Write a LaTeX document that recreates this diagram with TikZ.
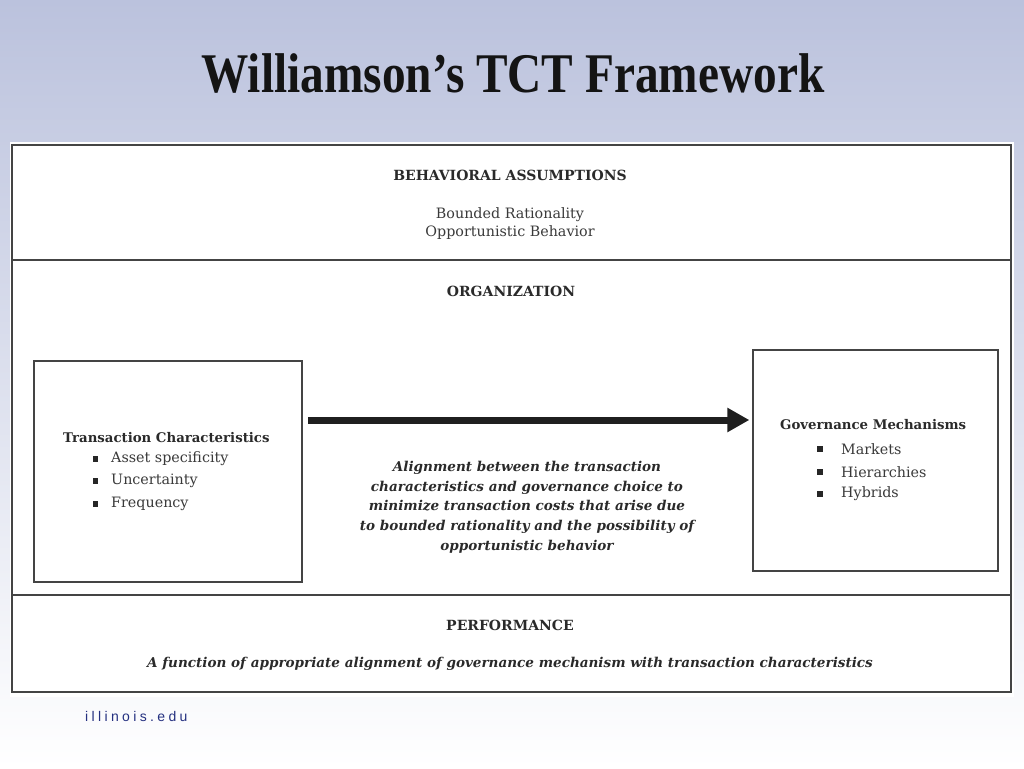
\documentclass[tikz,border=0pt]{standalone}
\usepackage{fontspec}
\setmainfont{DejaVu Serif}
\newfontfamily\titlefont{Liberation Serif}
\newfontfamily\urlfont[LetterSpace=24]{Liberation Sans}
\usetikzlibrary{arrows.meta}
\definecolor{bgtop}{HTML}{BBC2DD}
\definecolor{bgmid}{HTML}{D0D5E8}
\definecolor{txtc}{HTML}{3A3A3A}
\definecolor{hdrc}{HTML}{2A2A2A}
\definecolor{linec}{HTML}{444444}
\definecolor{urlc}{HTML}{243080}
\tikzset{
  hdr/.style={font=\fontsize{14}{16}\selectfont\bfseries, text=hdrc, inner sep=0pt},
  hdrs/.style={font=\fontsize{13.3}{16}\selectfont\bfseries, text=hdrc, inner sep=0pt},
  txt/.style={font=\fontsize{14.3}{18}\selectfont, text=txtc, inner sep=0pt},
  itx/.style={font=\fontsize{13.55}{19.7}\selectfont\bfseries\itshape, text=hdrc, inner sep=0pt, align=center},
  boxc/.style={draw=linec, line width=1.3pt, inner sep=0pt},
  bul/.style={fill=black!85, minimum size=5.5pt, inner sep=0pt},
  bigarrow/.style={draw=black!88, line width=7pt, -{Triangle[length=22pt,width=23pt]}}
}
\begin{document}
\begin{tikzpicture}[x=1pt,y=-1pt]
\useasboundingbox (0,0) rectangle (1024,768);
\shade[top color=bgtop, middle color=bgmid, bottom color=white] (0,0) rectangle (1024,768);
\fill[white] (10,142) rectangle (1014,697);
% title
\node[font=\titlefont\fontsize{56}{60}\selectfont\bfseries, text=black!92, inner sep=0pt, anchor=base] (title) at (513,92) {\scalebox{0.845}[1]{Williamson’s TCT Framework}};
% frame
\draw[linec, line width=1.3pt] (12,145) rectangle (1011,692);
\draw[linec, line width=1.3pt] (12,260) -- (1011,260);
\draw[linec, line width=1.3pt] (12,595) -- (1011,595);
% behavioral assumptions
\node[hdr] (ba) at (510,175) {BEHAVIORAL ASSUMPTIONS};
\node[txt, align=center] (br) at (510,224) {Bounded Rationality\\Opportunistic Behavior};
% organization
\node[hdr] (org) at (511,291) {ORGANIZATION};
\node[boxc, minimum width=268pt, minimum height=221pt] (lbox) at (168,471.5) {};
\node[boxc, minimum width=245pt, minimum height=221pt] (rbox) at (875.5,460.5) {};
\node[hdrs, anchor=west] (tc) at (63,438) {Transaction Characteristics};
\node[bul] (b1) at (95.5,459) {};
\node[txt, anchor=west] (t1) at (111,459) {Asset specificity};
\node[bul] (b2) at (95.5,481) {};
\node[txt, anchor=west] (t2) at (111,481) {Uncertainty};
\node[bul] (b3) at (95.5,504) {};
\node[txt, anchor=west] (t3) at (111,504) {Frequency};
\node[hdrs, anchor=west] (gm) at (780,425) {Governance Mechanisms};
\node[bul] (g1) at (820,449) {};
\node[txt, anchor=west] (m1) at (841,449) {Markets};
\node[bul] (g2) at (820,472) {};
\node[txt, anchor=west] (m2) at (841,472) {Hierarchies};
\node[bul] (g3) at (820,494) {};
\node[txt, anchor=west] (m3) at (841,494) {Hybrids};
\coordinate (astart) at (308,420);
\draw[bigarrow, shorten >=3pt] (astart) -- (rbox.west |- astart);
\node[itx] (align) at (527,507) {Alignment between the transaction\\characteristics and governance choice to\\minimize transaction costs that arise due\\to bounded rationality and the possibility of\\opportunistic behavior};
% performance
\node[hdr] (perf) at (510,625) {PERFORMANCE};
\node[itx] (func) at (510,664) {A function of appropriate alignment of governance mechanism with transaction characteristics};
% footer
\node[font=\urlfont\fontsize{14}{16}\selectfont, text=urlc, inner sep=0pt, anchor=west] (url) at (85,716) {illinois.edu};
\end{tikzpicture}
\end{document}
